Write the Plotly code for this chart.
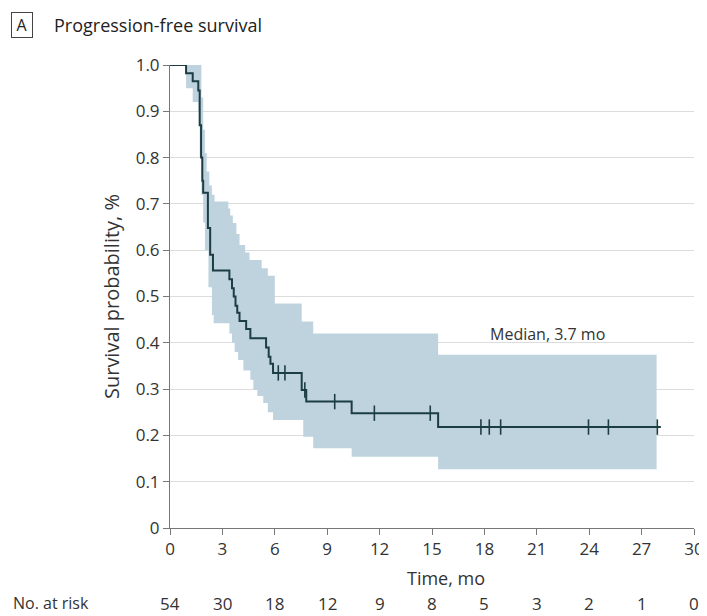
import plotly.graph_objects as go

# Kaplan-Meier step curve (time in months, survival probability)
km_time = [0, 0.92, 1.3, 1.62, 1.7, 1.78, 1.85, 1.9, 2.17, 2.3, 2.46, 3.4, 3.55, 3.65, 3.75,
           3.85, 3.98, 4.36, 4.6, 5.5, 5.65, 5.75, 5.9, 7.54, 7.8, 10.4, 15.35, 28.1]
km_surv = [1.0, 0.982, 0.965, 0.945, 0.87, 0.80, 0.75, 0.724, 0.648, 0.59, 0.556, 0.537, 0.518,
           0.50, 0.48, 0.465, 0.447, 0.43, 0.41, 0.39, 0.37, 0.355, 0.335, 0.298, 0.273, 0.248,
           0.218, 0.218]

# Censoring times
censor_time = [6.2, 6.58, 7.72, 9.43, 11.7, 14.9, 17.8, 18.28, 18.93, 23.96, 25.1, 27.9]

# 95% CI band (step functions)
upper_time = [0, 1.75, 1.8, 1.9, 2.0, 2.1, 2.25, 2.4, 2.55, 3.34, 3.45, 3.6, 3.8, 3.98, 4.3,
              4.55, 5.25, 5.6, 6.0, 7.54, 8.2, 15.35, 27.86]
upper_val = [1.0, 1.0, 0.93, 0.86, 0.81, 0.77, 0.74, 0.72, 0.705, 0.69, 0.675, 0.659, 0.635,
             0.611, 0.595, 0.579, 0.561, 0.545, 0.485, 0.446, 0.42, 0.374, 0.374]
lower_time = [0, 0.92, 1.3, 1.62, 1.7, 1.8, 1.9, 2.0, 2.2, 2.4, 2.5, 3.4, 3.55, 3.7, 3.9, 4.2,
              4.6, 4.77, 5.0, 5.34, 5.6, 5.9, 7.63, 8.2, 10.4, 15.35, 27.86]
lower_val = [1.0, 0.95, 0.92, 0.90, 0.80, 0.72, 0.66, 0.60, 0.52, 0.46, 0.442, 0.42, 0.40, 0.38,
             0.363, 0.34, 0.32, 0.298, 0.285, 0.27, 0.25, 0.233, 0.197, 0.172, 0.154, 0.127, 0.127]

# Number at risk table
risk_times = [0, 3, 6, 9, 12, 15, 18, 21, 24, 27, 30]
risk_counts = [54, 30, 18, 12, 9, 8, 5, 3, 2, 1, 0]

y_ticks = [0, 0.1, 0.2, 0.3, 0.4, 0.5, 0.6, 0.7, 0.8, 0.9, 1.0]
y_ticktext = ["0", "0.1", "0.2", "0.3", "0.4", "0.5", "0.6", "0.7", "0.8", "0.9", "1.0"]
x_ticks = [0, 3, 6, 9, 12, 15, 18, 21, 24, 27, 30]

FONT = "Open Sans"
TXT = "#333333"
LINE = "#1d3d45"
BAND = "#bfd3de"


def step_at(times, vals, t):
    v = vals[0]
    for ti, vi in zip(times, vals):
        if ti <= t:
            v = vi
    return v


fig = go.Figure()

fig.add_trace(go.Scatter(x=lower_time, y=lower_val, mode="lines", line=dict(width=0, shape="hv"),
                         hoverinfo="skip", showlegend=False))
fig.add_trace(go.Scatter(x=upper_time, y=upper_val, mode="lines", line=dict(width=0, shape="hv"),
                         fill="tonexty", fillcolor=BAND, hoverinfo="skip", showlegend=False))

fig.add_trace(go.Scatter(x=km_time, y=km_surv, mode="lines",
                         line=dict(color=LINE, width=2, shape="hv"),
                         cliponaxis=False, showlegend=False))

censor_y = [step_at(km_time, km_surv, t) for t in censor_time]
fig.add_trace(go.Scatter(x=censor_time, y=censor_y, mode="markers",
                         marker=dict(symbol="line-ns", size=11, line=dict(color=LINE, width=1.6)),
                         cliponaxis=False, showlegend=False))

fig.add_annotation(x=21.6, y=0.42, xref="x", yref="y", text="Median, 3.7 mo",
                   showarrow=False, xanchor="center", yanchor="middle",
                   font=dict(family=FONT, size=16, color=TXT))

# x-axis title (placed slightly right of centre, as in the original)
fig.add_annotation(x=0.5, y=-0.108, xref="paper", yref="paper", text="Time, mo",
                   showarrow=False, xanchor="center", yanchor="middle", xshift=14,
                   font=dict(family=FONT, size=18, color=TXT))

RISK_Y = -0.163
for t, n in zip(risk_times, risk_counts):
    fig.add_annotation(x=t, y=RISK_Y, xref="x", yref="paper", text=str(n), showarrow=False,
                       xanchor="center", yanchor="middle",
                       font=dict(family=FONT, size=17, color=TXT))
fig.add_annotation(x=0, xref="paper", y=RISK_Y, yref="paper", text="No. at risk",
                   showarrow=False, xanchor="left", yanchor="middle", xshift=-159,
                   font=dict(family=FONT, size=16, color=TXT))

# Panel title
fig.add_annotation(x=0, y=1, xref="paper", yref="paper", text="A", showarrow=False,
                   xanchor="center", yanchor="middle", xshift=-148, yshift=40,
                   font=dict(family=FONT, size=16, color="#222222"),
                   bordercolor="#444444", borderwidth=1, borderpad=2, width=16, height=20)
fig.add_annotation(x=0, y=1, xref="paper", yref="paper", text="Progression-free survival",
                   showarrow=False, xanchor="left", yanchor="middle", xshift=-118, yshift=40,
                   font=dict(family=FONT, size=18, color="#222222"))

fig.update_xaxes(range=[0, 30], tickvals=x_ticks, ticks="outside", ticklen=6, tickcolor="#777777",
                 showline=True, linecolor="#777777", linewidth=1, showgrid=False, zeroline=False,
                 automargin=False, tickfont=dict(family=FONT, size=17, color=TXT))
fig.update_yaxes(range=[0, 1.0], tickvals=y_ticks, ticktext=y_ticktext, ticks="outside", ticklen=6,
                 tickcolor="#777777", showline=True, linecolor="#777777", linewidth=1,
                 showgrid=True, gridcolor="#dcdcdc", gridwidth=1, zeroline=False, automargin=False,
                 tickfont=dict(family=FONT, size=17, color=TXT),
                 title=dict(text="Survival probability, %", font=dict(family=FONT, size=20, color=TXT),
                            standoff=10))

# page body has an 8px margin, so the figure is sized and offset to compensate
fig.update_layout(width=699, height=608, margin=dict(l=162, r=13, t=57, b=88),
                  plot_bgcolor="white", paper_bgcolor="white", showlegend=False)

fig.write_html("out.html")
